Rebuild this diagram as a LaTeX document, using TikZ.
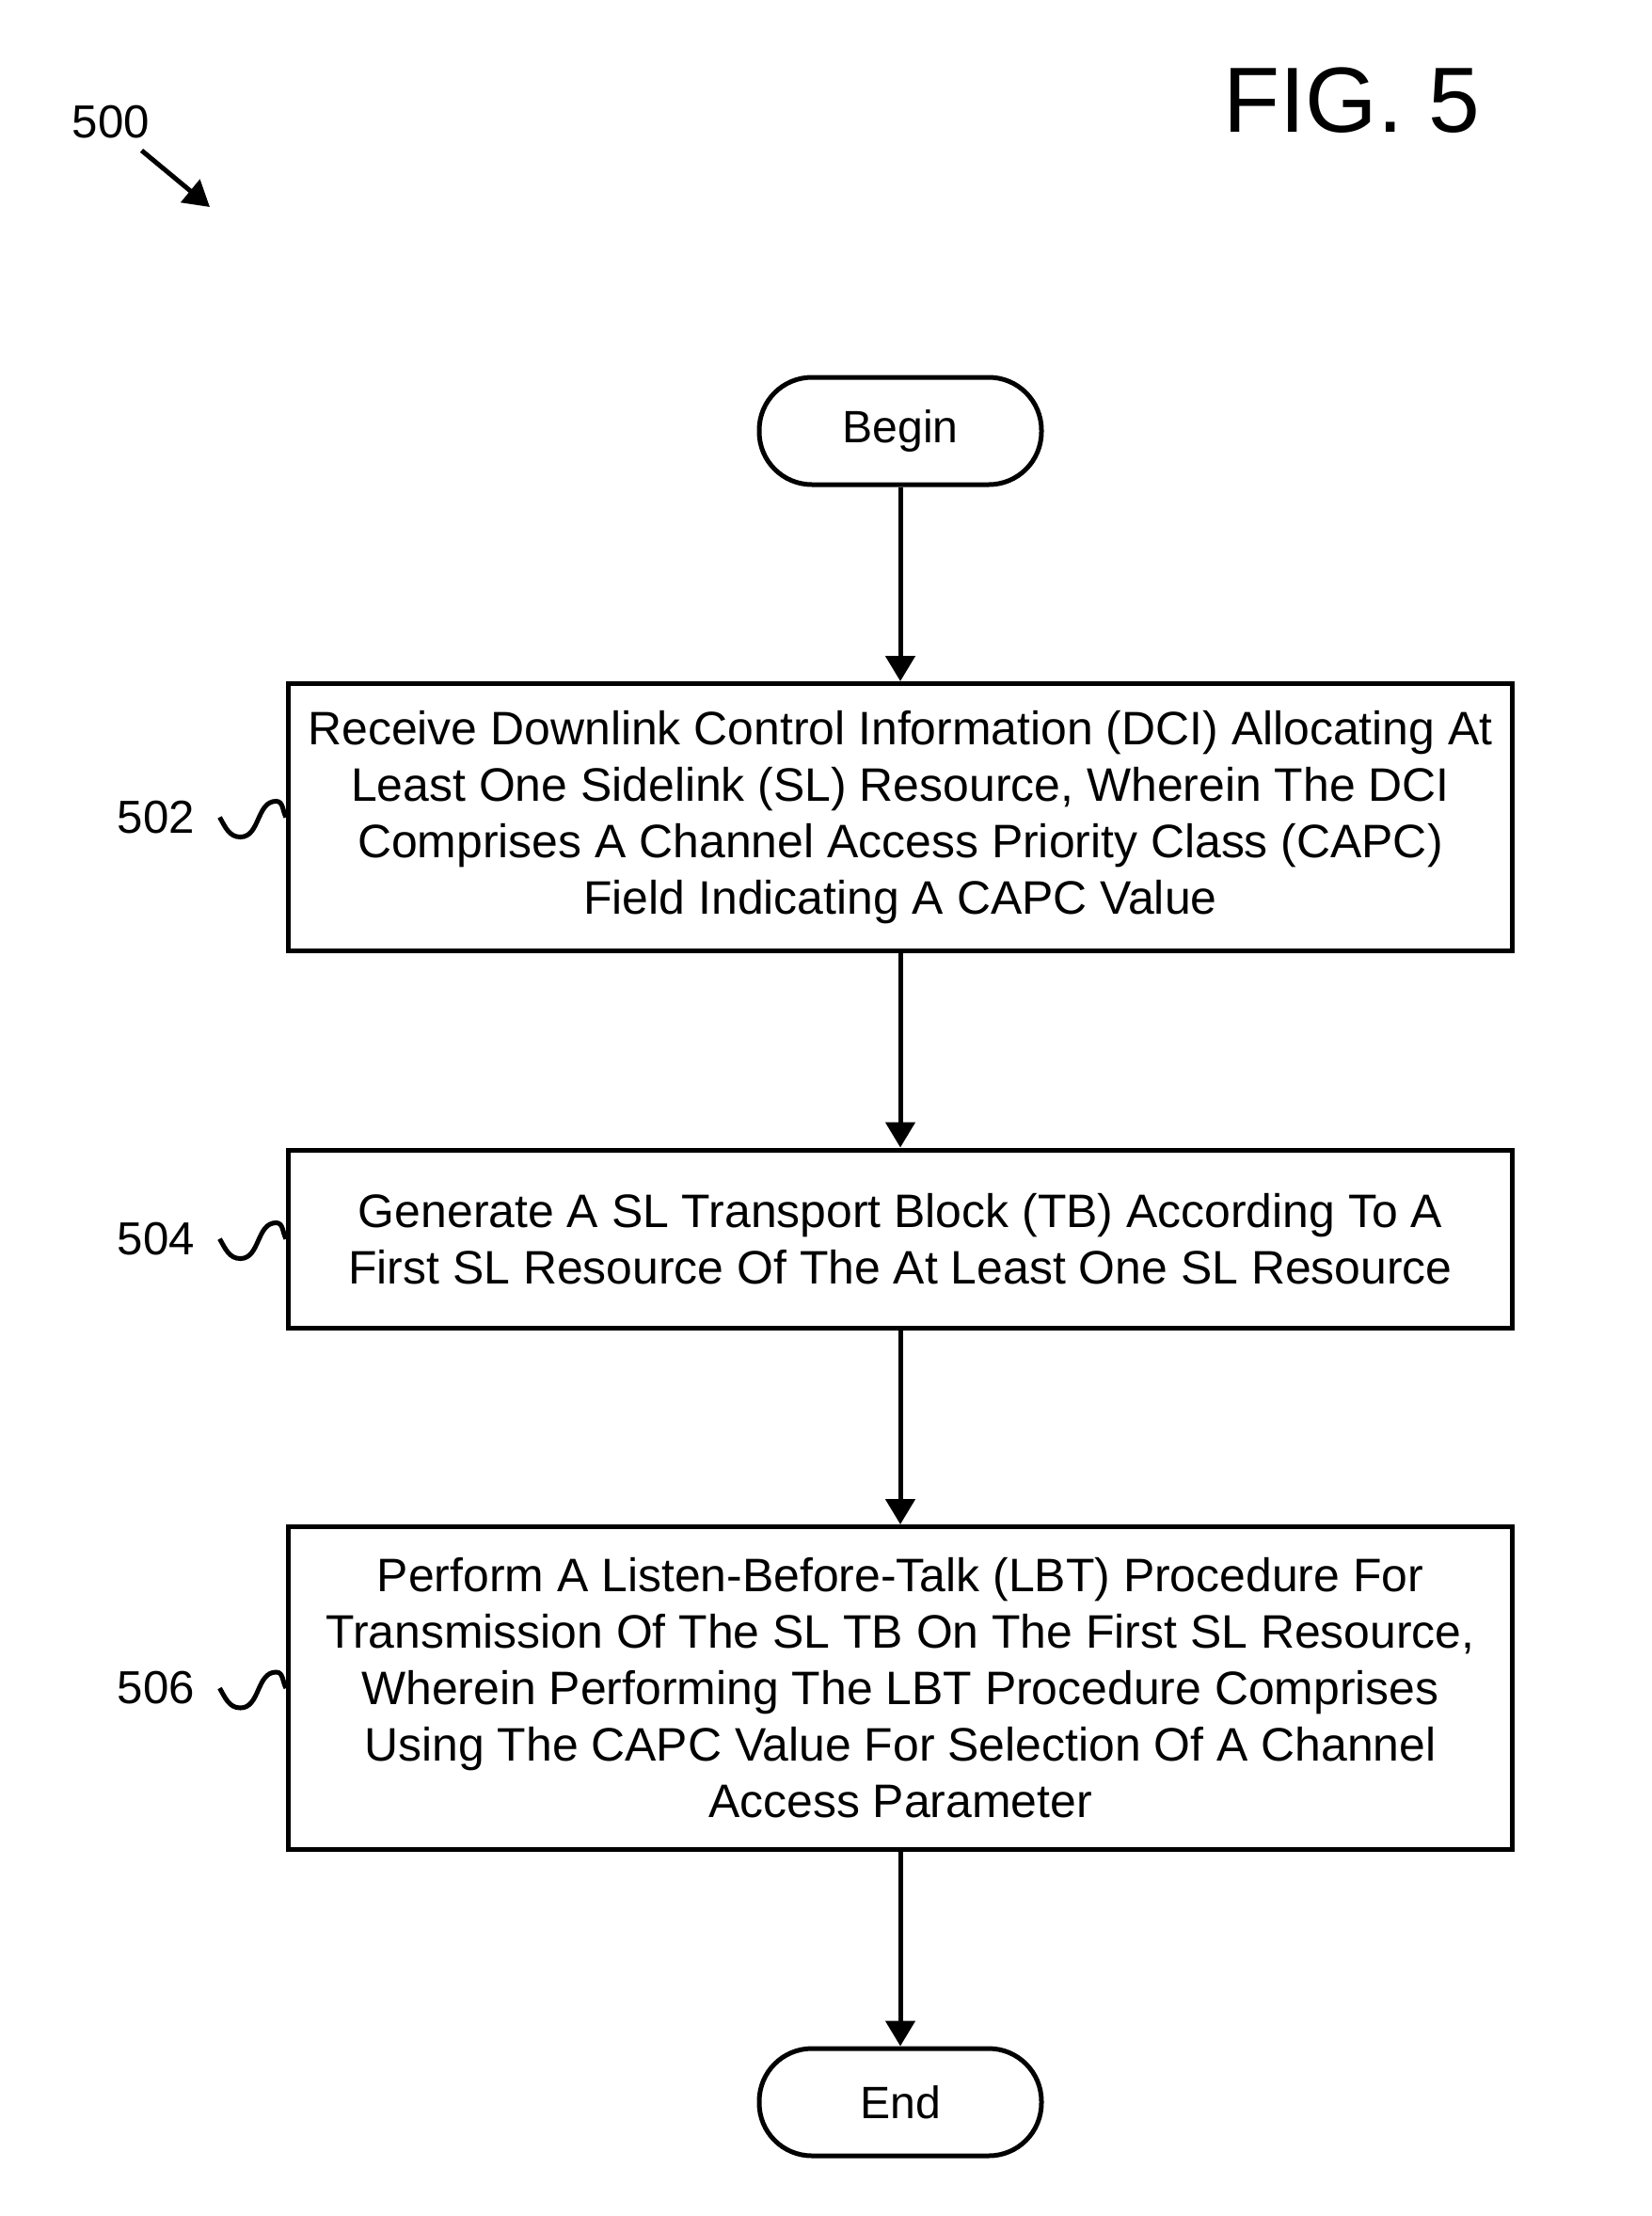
\documentclass[tikz,border=0pt]{standalone}
\usepackage{fontspec}
\setmainfont{Liberation Sans}
\usetikzlibrary{positioning,arrows.meta}

\begin{document}
\begin{tikzpicture}[
  node distance=2.065cm,
  line width=0.05cm,
  box/.style={draw, minimum width=13.01cm, align=center, inner sep=0pt, font=\fontsize{14.2}{17.07}\selectfont},
  term/.style={draw, rounded corners=0.56cm, minimum width=3.0cm, minimum height=1.14cm, inner sep=0pt, font=\fontsize{13.7}{17.07}\selectfont},
  ref/.style={inner sep=0pt, font=\fontsize{14}{17}\selectfont},
  arrow/.style={-{Triangle[length=0.27cm, width=0.31cm]}}
]
  \useasboundingbox (0,0) rectangle (17.56,-23.55);
  % title and figure reference
  \node[inner sep=0pt, font=\fontsize{28}{32}\selectfont] (fig) at (14.37,-1.07) {FIG. 5};
  \node[ref] (l500) at (1.18,-1.30) {500};
  \coordinate (p500) at (2.23,-2.20);
  \draw[arrow] ([xshift=-0.11cm, yshift=-0.10cm]l500.south east) -- (p500);

  % flow
  \node[term] (begin) at (9.57,-4.58) {Begin};
  \node[box, minimum height=2.84cm, below=of begin] (b502) {Receive Downlink Control Information (DCI) Allocating At\\Least One Sidelink (SL) Resource, Wherein The DCI\\Comprises A Channel Access Priority Class (CAPC)\\Field Indicating A CAPC Value};
  \node[box, minimum height=1.89cm, below=of b502] (b504) {Generate A SL Transport Block (TB) According To A\\First SL Resource Of The At Least One SL Resource};
  \node[box, minimum height=3.43cm, below=of b504] (b506) {Perform A Listen-Before-Talk (LBT) Procedure For\\Transmission Of The SL TB On The First SL Resource,\\Wherein Performing The LBT Procedure Comprises\\Using The CAPC Value For Selection Of A Channel\\Access Parameter};
  \node[term, below=of b506] (end) {End};
  \draw[arrow] (begin) -- (b502);
  \draw[arrow] (b502) -- (b504);
  \draw[arrow] (b504) -- (b506);
  \draw[arrow] (b506) -- (end);

  % step numbers
  \foreach \n in {502,504,506} {
    \node[ref, left=0.945cm of b\n] (l\n) {\n};
    \draw ([xshift=0.24cm]l\n.east) to[out=-60, in=180] ++(0.22,-0.21) to[out=0, in=180] ++(0.38,0.38) to[out=0, in=120] (b\n.west);
  }
\end{tikzpicture}
\end{document}
